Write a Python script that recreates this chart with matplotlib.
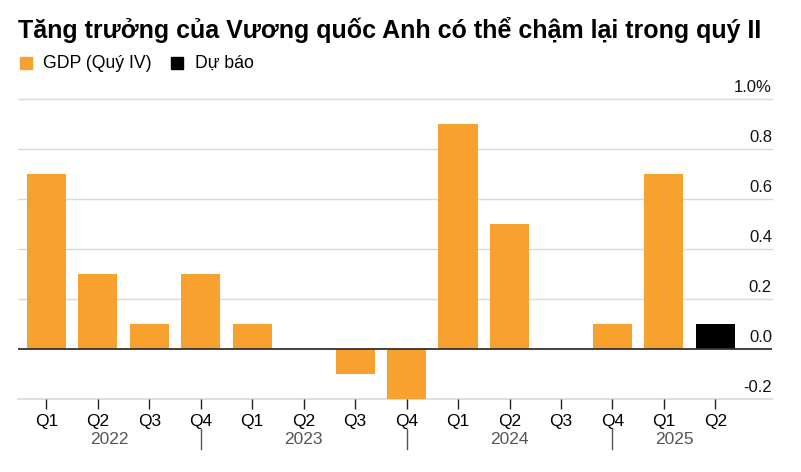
import matplotlib.pyplot as plt
import numpy as np

plt.rcParams["font.family"] = ["Liberation Sans", "DejaVu Sans"]

quarters = ["Q1", "Q2", "Q3", "Q4", "Q1", "Q2", "Q3", "Q4",
            "Q1", "Q2", "Q3", "Q4", "Q1", "Q2"]
gdp = [0.7, 0.3, 0.1, 0.3, 0.1, 0.0, -0.1, -0.2, 0.9, 0.5, 0.0, 0.1, 0.7]
forecast = [0.1]
years = ["2022", "2023", "2024", "2025"]
yticks = [-0.2, 0.0, 0.2, 0.4, 0.6, 0.8, 1.0]

ORANGE = "#F9A12E"
W, H = 801, 472

fig = plt.figure(figsize=(W / 100, H / 100), dpi=100)
ax = fig.add_axes([18 / W, 1 - 399 / H, (772 - 18) / W, (399 - 99) / H])

x = np.arange(len(quarters))
ax.bar(x[:len(gdp)], gdp, width=0.76, color=ORANGE, zorder=2)
ax.bar(x[len(gdp):], forecast, width=0.76, color="black", zorder=2)

ax.set_xlim(-0.55, 14.1)
ax.set_ylim(-0.2, 1.0)

for v in yticks:
    if v == 0:
        ax.axhline(0, color="#333333", lw=1.3, zorder=3)
    else:
        ax.axhline(v, color="#d9d9d9", lw=1.2 if v == -0.2 else 1.0, zorder=1, clip_on=False)
    lab = "1.0%" if v == 1.0 else f"{v:.1f}"
    ax.text(1.0, v + 0.016, lab, transform=ax.get_yaxis_transform(),
            ha="right", va="bottom", fontsize=12, color="#111111")

for s in ax.spines.values():
    s.set_visible(False)
ax.set_yticks([])
ax.set_xticks(x)
ax.set_xticklabels(quarters, fontsize=12.5)
ax.tick_params(axis="x", length=7, width=1, color="#222222", pad=4)

# year labels, centred between separators under Q4 ticks
seps = [3, 7, 11]
bounds = [-0.55] + seps + [13.4]
trans = ax.get_xaxis_transform()
for i, yr in enumerate(years):
    ax.text((bounds[i] + bounds[i + 1]) / 2, -0.135, yr, transform=trans,
            ha="center", va="center", fontsize=12.5, color="#555555")
for s in seps:
    ax.plot([s, s], [-0.1, -0.165], transform=trans, color="#555555",
            lw=1, clip_on=False)

fig.text(18 / W, 1 - 30 / H, "Tăng trưởng của Vương quốc Anh có thể chậm lại trong quý II",
         fontsize=18, fontweight="bold", va="center", ha="left")

# legend
fig.patches.append(plt.Rectangle((20 / W, 1 - 69 / H), 12 / W, 12 / H,
                                 transform=fig.transFigure, color=ORANGE))
fig.text(43 / W, 1 - 63 / H, "GDP (Quý IV)", fontsize=12.7, va="center")
fig.patches.append(plt.Rectangle((171 / W, 1 - 69 / H), 12 / W, 12 / H,
                                 transform=fig.transFigure, color="black"))
fig.text(195 / W, 1 - 63 / H, "Dự báo", fontsize=12.7, va="center")

fig.savefig("out.png", dpi=100)
